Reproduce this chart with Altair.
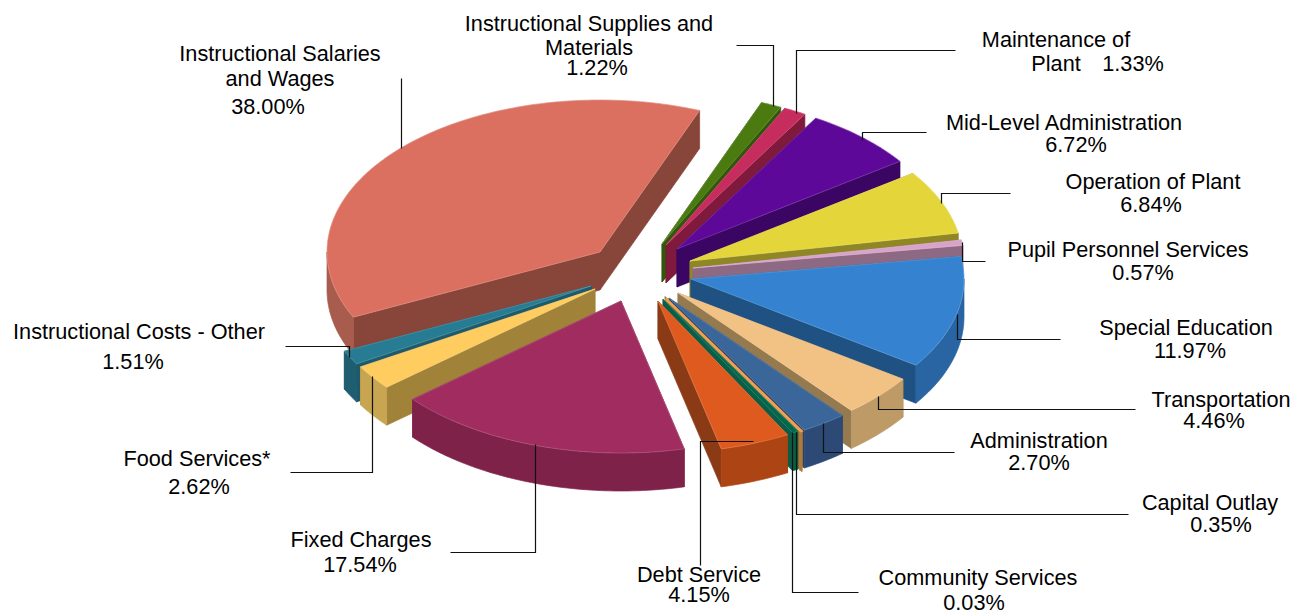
import math
import altair as alt

# Budget shares in percent, clockwise from the first slice
categories = ["Instructional Supplies and Materials", "Maintenance of Plant", "Mid-Level Administration",
              "Operation of Plant", "Pupil Personnel Services", "Special Education", "Transportation",
              "Administration", "Community Services", "Capital Outlay", "Debt Service", "Fixed Charges",
              "Food Services*", "Instructional Costs - Other", "Instructional Salaries and Wages"]
shares = [1.22, 1.33, 6.72, 6.84, 0.57, 11.97, 4.46, 2.70, 0.03, 0.35, 4.15, 17.54, 2.62, 1.51, 38.00]

# Face colours per slice: top, cut faces, rim
top_colors = ["#4A7A10", "#C72C5F", "#5E089A", "#E4D63A", "#D8A3C8", "#3583D0", "#F2C184",
              "#3A6699", "#F0A050", "#00684F", "#DE5A1E", "#A02C60", "#FFCC60", "#277C93", "#DB7060"]
cut_colors = ["#2F5809", "#7F1A3D", "#3B0563", "#8F8726", "#8D6983", "#1F5282", "#957A50",
              "#2A4468", "#B07A3B", "#0B5E45", "#8B3A16", "#7F2249", "#A08339", "#1D5A6B", "#884539"]
rim_colors = ["#2F5809", "#7F1A3D", "#3B0563", "#8F8726", "#8D6983", "#2965A2", "#BD9A66",
              "#2C4A75", "#B07A3B", "#0B5E45", "#AC4413", "#7F2249", "#C8A550", "#1E5E70", "#A85C4D"]

# Where each exploded slice has its tip on the page
tips = [(662, 244), (666, 245), (677, 249), (690, 261), (693, 268), (691, 279), (678, 293),
        (669, 298), (666, 299), (663, 299), (658, 301), (621, 301), (595, 289), (591, 286), (600, 252)]
# Drawing order, back to front
paint_order = [14, 13, 12, 11, 0, 1, 2, 3, 4, 5, 6, 7, 8, 9, 10]

W, H = 1304, 613
RX, RY, DEPTH = 273, 152, 38
START_ANGLE = 21.4
EDGE_WIDTH = 0.7
# The hairline slice needs a heavier outline to stay visible
HAIRLINE_WIDTH = 2.5


def mix(hex_color, amount):
    rgb = [int(hex_color[i:i + 2], 16) for i in (1, 3, 5)]
    return "#" + "".join(f"{round(c + (255 - c) * amount):02x}" for c in rgb)


def rim_point(tip, angle):
    a = math.radians(angle)
    return (tip[0] + RX * math.sin(a), tip[1] - RY * math.cos(a))


def arc(tip, a0, a1):
    n = max(2, int(abs(a1 - a0)) + 2)
    return [rim_point(tip, a0 + (a1 - a0) * i / (n - 1)) for i in range(n)]


def drop(points):
    return [(x, y + DEPTH) for x, y in points]


def polygon(points, fill, stroke, width):
    ring = [[round(x, 2), round(y, 2)] for x, y in points]
    ring.append(ring[0])
    return {"type": "Feature", "geometry": {"type": "Polygon", "coordinates": [ring]},
            "properties": {"fill": fill, "stroke": stroke, "width": width}}


total = sum(shares)
bounds = [START_ANGLE]
for s in shares:
    bounds.append(bounds[-1] + s / total * 360)

features = []
for i in paint_order:
    a0, a1 = bounds[i], bounds[i + 1]
    tip = tips[i]
    width = HAIRLINE_WIDTH if shares[i] < 0.1 else EDGE_WIDTH
    for a in (a0, a1):
        edge = [tip, rim_point(tip, a)]
        features.append(polygon(edge + drop(edge)[::-1], cut_colors[i], cut_colors[i], width))
    f0, f1 = max(a0, 90), min(a1, 270)
    if f1 > f0:
        curve = arc(tip, f0, f1)
        features.append(polygon(curve + drop(curve)[::-1], rim_colors[i], rim_colors[i], width))
    top_stroke = top_colors[i] if shares[i] < 0.1 else mix(top_colors[i], 0.22)
    features.append(polygon([tip] + arc(tip, a0, a1), top_colors[i], top_stroke, width))

pie = alt.Chart(alt.Data(values=features)).mark_geoshape().encode(
    fill=alt.Fill("properties.fill:N", scale=None, legend=None),
    stroke=alt.Stroke("properties.stroke:N", scale=None, legend=None),
    strokeWidth=alt.StrokeWidth("properties.width:Q", scale=None, legend=None),
).project(type="identity", scale=1, translate=[0, 0])

# Leader line routes, one per label
leaders = [
    [(401, 78), (401, 148)],
    [(736, 45), (773, 45), (773, 106)],
    [(955, 50), (796, 50), (796, 113)],
    [(926, 132), (862, 132), (862, 140)],
    [(1010, 193), (941, 193), (941, 203)],
    [(985, 261), (962, 261), (962, 242)],
    [(1060, 339), (957, 339), (957, 314)],
    [(1135, 409), (878, 409), (878, 396)],
    [(954, 452), (823, 452), (823, 423)],
    [(1128, 514), (796, 514), (796, 432)],
    [(858, 592), (792, 592), (792, 432)],
    [(700, 565), (700, 441), (753, 441)],
    [(450, 552), (535, 552), (535, 444)],
    [(290, 472), (372, 472), (372, 376)],
    [(285, 346), (349, 346), (349, 357)],
]
leader_rows = [{"id": k, "step": j, "px": p[0] + 0.5, "py": p[1] + 0.5}
               for k, route in enumerate(leaders) for j, p in enumerate(route)]

x_scale = alt.Scale(domain=[0, W], range=[0, W], nice=False, zero=False)
y_scale = alt.Scale(domain=[0, H], range=[0, H], nice=False, zero=False)

lines = alt.Chart(alt.Data(values=leader_rows)).mark_line(color="#111111", strokeWidth=1.2).encode(
    x=alt.X("px:Q", scale=x_scale, axis=None),
    y=alt.Y("py:Q", scale=y_scale, axis=None),
    detail="id:N",
    order="step:Q",
)


def pct(name):
    return f"{shares[categories.index(name)]:.2f}%"


# Label rows: text, centre x, baseline y
label_rows = [
    ("Instructional Salaries", 280, 61), ("and Wages", 280, 86), (pct("Instructional Salaries and Wages"), 268, 114),
    ("Instructional Supplies and", 589, 31), ("Materials", 589, 55),
    (pct("Instructional Supplies and Materials"), 597, 75),
    ("Maintenance of", 1056, 47), ("Plant", 1056, 71), (pct("Maintenance of Plant"), 1133, 71),
    ("Mid-Level Administration", 1064, 130), (pct("Mid-Level Administration"), 1076, 152),
    ("Operation of Plant", 1153, 189), (pct("Operation of Plant"), 1151, 212),
    ("Pupil Personnel Services", 1128, 257), (pct("Pupil Personnel Services"), 1143, 280),
    ("Special Education", 1186, 335), (pct("Special Education"), 1190, 358),
    ("Transportation", 1221, 407), (pct("Transportation"), 1214, 428),
    ("Administration", 1039, 448), (pct("Administration"), 1039, 470),
    ("Capital Outlay", 1210, 510), (pct("Capital Outlay"), 1221, 532),
    ("Community Services", 978, 585), (pct("Community Services"), 974, 610),
    ("Debt Service", 699, 582), (pct("Debt Service"), 699, 602),
    ("Fixed Charges", 361, 547), (pct("Fixed Charges"), 360, 572),
    ("Food Services*", 197, 466), (pct("Food Services*"), 199, 494),
    ("Instructional Costs - Other", 139, 339), (pct("Instructional Costs - Other"), 133, 369),
]
label_data = [{"t": t, "px": x, "py": y} for t, x, y in label_rows]

labels = alt.Chart(alt.Data(values=label_data)).mark_text(
    font="Liberation Sans", fontSize=21.7, color="#000000", align="center", baseline="alphabetic"
).encode(
    x=alt.X("px:Q", scale=x_scale, axis=None),
    y=alt.Y("py:Q", scale=y_scale, axis=None),
    text="t:N",
)

chart = alt.layer(pie, lines, labels).properties(
    width=W, height=H, padding=0, background="#ffffff", autosize=alt.AutoSizeParams(type="none")
).configure_view(stroke=None)

chart.save("out.html", embed_options={"renderer": "svg", "actions": False})
